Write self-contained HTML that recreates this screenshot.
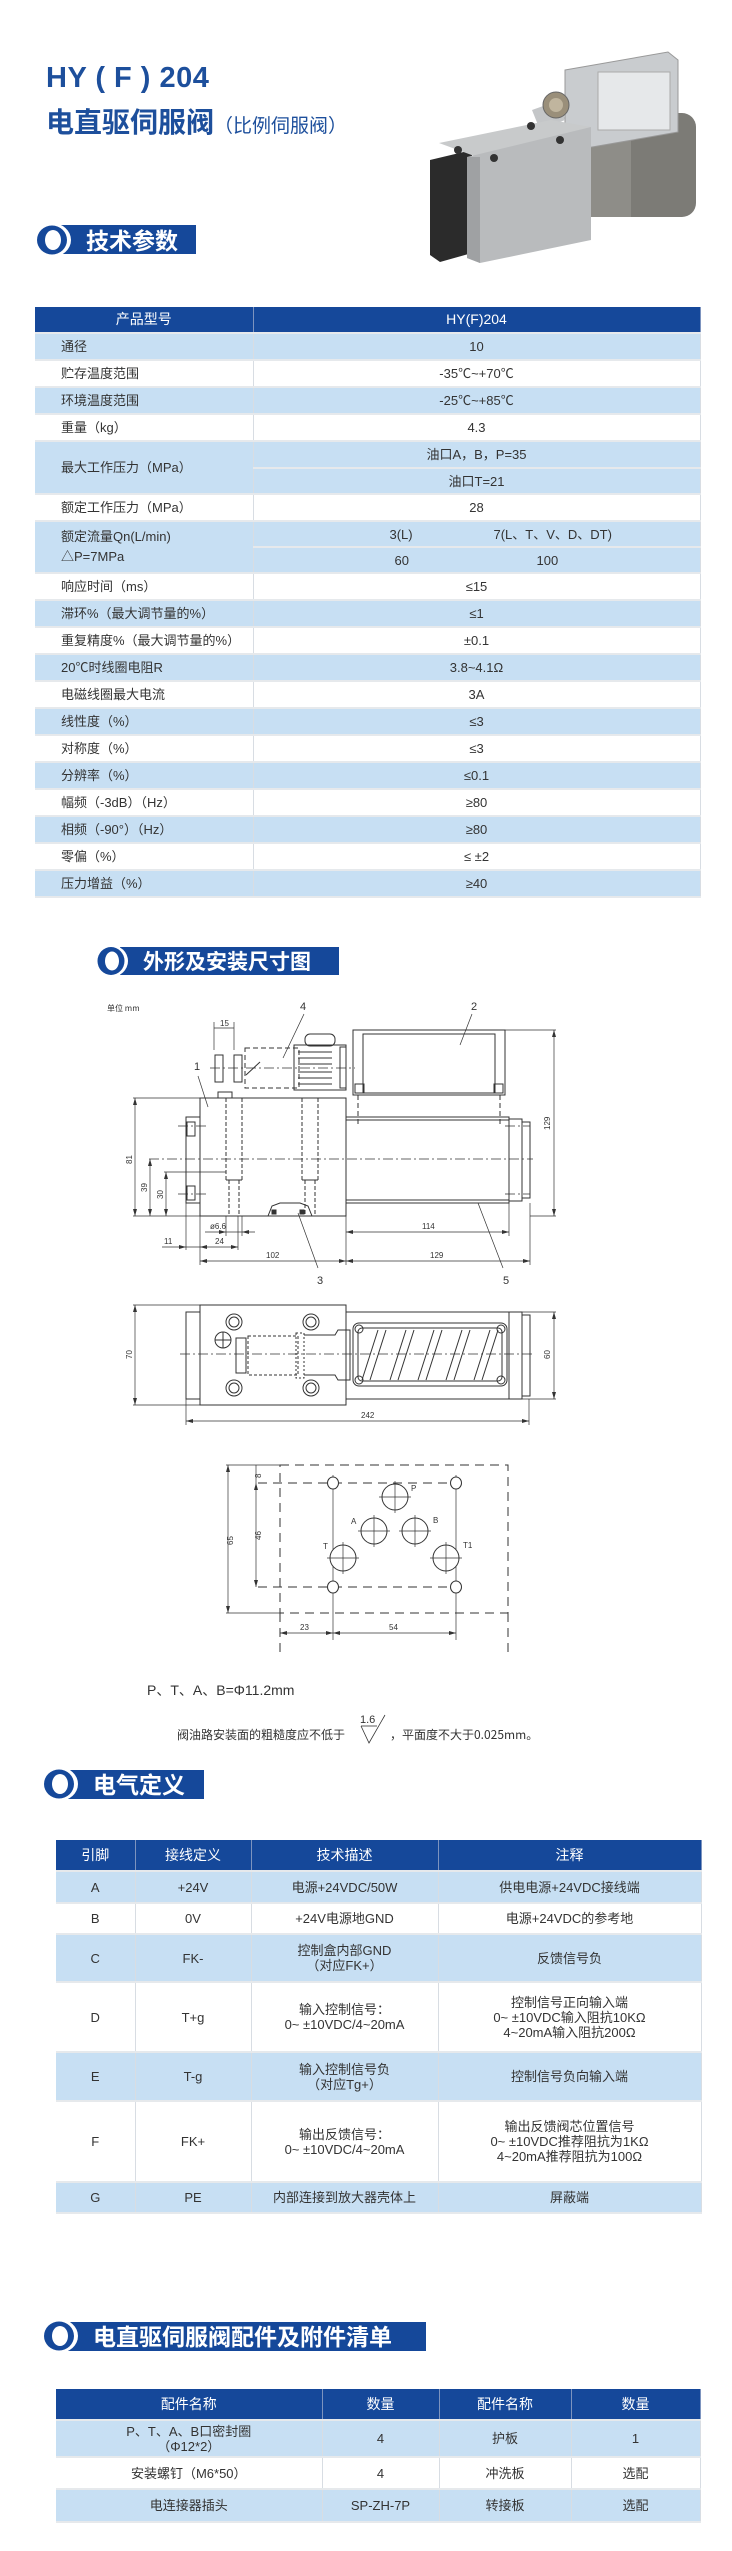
<!DOCTYPE html>
<html><head><meta charset="utf-8">
<style>
*{margin:0;padding:0;box-sizing:border-box}
body{width:732px;height:2551px;background:#fff;position:relative;overflow:hidden;font-family:"Liberation Sans","Noto Sans CJK SC",sans-serif;color:#333}
.abs{position:absolute}
table{border-collapse:collapse;table-layout:fixed;position:absolute;font-size:13px}
td,th{text-align:center;vertical-align:middle;border-right:1px solid #d8dde3;border-bottom:2px solid #e6e9ec;padding:0;line-height:15px}
th{background:#15489a;color:#fff;font-weight:normal;font-size:14px;border-right:1px solid #7d94bf}
tr.b td{background:#c7dff3}
tr.w td{background:#fff}
td.l{text-align:left;padding-left:26px}
</style></head><body>

<div class="abs" style="left:46px;top:62px;font-size:29px;font-weight:bold;color:#1d4f9c;letter-spacing:0.5px">HY ( F ) 204</div>
<div class="abs" style="left:46px;top:101px;font-size:28px;font-weight:bold;color:#1d4f9c;font-family:'Noto Sans CJK SC',sans-serif">电直驱伺服阀<span style="font-size:19px;font-weight:normal">（比例伺服阀）</span></div>

<svg class="abs" style="left:0;top:0" width="732" height="2551" xmlns="http://www.w3.org/2000/svg">
<!-- valve photo -->
<g>
<rect x="591" y="113" width="105" height="104" rx="14" fill="#7c7b76"/>
<rect x="591" y="113" width="40" height="104" fill="#8e8d88"/>
<polygon points="565,70 668,52 678,60 678,132 575,150 565,140" fill="#c9cccf" stroke="#999" stroke-width="1"/>
<rect x="598" y="72" width="72" height="58" fill="#e6e8ea" stroke="#aaa"/>
<polygon points="532,110 560,100 565,120 540,130" fill="#c4c6c8"/>
<circle cx="556" cy="105" r="13" fill="#9a8f7a" stroke="#666"/>
<circle cx="556" cy="105" r="7" fill="#c0b59e"/>
<polygon points="430,160 472,150 472,253 440,262 430,255" fill="#2b2b2b"/>
<polygon points="439,143 551,120 591,127 477,157" fill="#c8cacb"/>
<polygon points="467,157 591,127 591,240 480,263 467,258" fill="#b9bbbd"/>
<polygon points="467,157 480,157 480,263 467,258" fill="#9fa1a3"/>
<circle cx="458" cy="150" r="4" fill="#333"/><circle cx="531" cy="126" r="4" fill="#333"/>
<circle cx="494" cy="158" r="4" fill="#333"/><circle cx="560" cy="140" r="4" fill="#333"/>
</g>

<!-- section headers -->
<g font-family="Noto Sans CJK SC,sans-serif" font-weight="bold" fill="#fff">
<rect x="60" y="225" width="136" height="29" fill="#15489a"/>
<ellipse cx="52" cy="240" rx="19" ry="17" fill="#fff"/><ellipse cx="52" cy="240" rx="15" ry="14.5" fill="#15489a"/><ellipse cx="53" cy="240" rx="8" ry="10" fill="#fff"/>
<text x="86" y="249" font-size="23">技术参数</text>

<rect x="120" y="947" width="219" height="28" fill="#15489a"/>
<ellipse cx="111" cy="961" rx="17" ry="16" fill="#fff"/><ellipse cx="111" cy="961" rx="13.5" ry="14" fill="#15489a"/><ellipse cx="112" cy="961" rx="7" ry="9.5" fill="#fff"/>
<text x="143" y="969" font-size="21">外形及安装尺寸图</text>

<rect x="68" y="1770" width="136" height="29" fill="#15489a"/>
<ellipse cx="59" cy="1784" rx="19" ry="17" fill="#fff"/><ellipse cx="59" cy="1784" rx="15" ry="14.5" fill="#15489a"/><ellipse cx="60" cy="1784" rx="8" ry="10" fill="#fff"/>
<text x="93" y="1793" font-size="23">电气定义</text>

<rect x="68" y="2322" width="358" height="29" fill="#15489a"/>
<ellipse cx="59" cy="2336" rx="19" ry="17" fill="#fff"/><ellipse cx="59" cy="2336" rx="15" ry="14.5" fill="#15489a"/><ellipse cx="60" cy="2336" rx="8" ry="10" fill="#fff"/>
<text x="93" y="2345" font-size="23">电直驱伺服阀配件及附件清单</text>
</g>

<!-- side view -->
<g stroke="#333" stroke-width="1" fill="none" font-family="Liberation Sans,sans-serif">
<text x="107" y="1011" font-size="8" fill="#333" stroke="none" font-family="Noto Sans CJK SC,sans-serif">单位 mm</text>
<rect x="200" y="1098" width="146" height="118"/>
<rect x="186" y="1117" width="14" height="86"/>
<rect x="187" y="1122" width="8" height="14"/><rect x="187" y="1186" width="8" height="14"/>
<rect x="218" y="1092" width="14" height="6"/>
<g stroke-dasharray="4,2"><line x1="226" y1="1098" x2="226" y2="1180"/><line x1="242" y1="1098" x2="242" y2="1180"/><line x1="302" y1="1098" x2="302" y2="1180"/><line x1="318" y1="1098" x2="318" y2="1180"/>
<line x1="229" y1="1180" x2="229" y2="1216"/><line x1="239" y1="1180" x2="239" y2="1216"/><line x1="305" y1="1180" x2="305" y2="1216"/><line x1="315" y1="1180" x2="315" y2="1216"/></g>
<line x1="226" y1="1180" x2="242" y2="1180"/><line x1="302" y1="1180" x2="318" y2="1180"/>
<rect x="346" y="1117" width="163" height="86"/>
<rect x="346" y="1117" width="163" height="3"/><rect x="346" y="1200" width="163" height="3"/>
<rect x="509" y="1119" width="13" height="82"/><rect x="522" y="1122" width="8" height="76"/>
<rect x="353" y="1030" width="152" height="65"/><rect x="363" y="1034" width="132" height="59"/>
<rect x="355" y="1084" width="9" height="9"/><rect x="494" y="1084" width="9" height="9"/>
<g stroke-dasharray="5,3"><line x1="358" y1="1095" x2="358" y2="1125"/><line x1="500" y1="1095" x2="500" y2="1125"/>
<rect x="245" y="1048" width="54" height="40"/></g>
<rect x="305" y="1034" width="30" height="12" rx="5"/>
<rect x="294" y="1045" width="52" height="45"/><rect x="340" y="1047" width="6" height="41"/>
<g><line x1="298" y1="1052" x2="332" y2="1052"/><line x1="298" y1="1058" x2="332" y2="1058"/><line x1="298" y1="1064" x2="332" y2="1064"/><line x1="298" y1="1072" x2="332" y2="1072"/><line x1="298" y1="1078" x2="332" y2="1078"/><line x1="298" y1="1084" x2="332" y2="1084"/></g>
<rect x="215" y="1055" width="8" height="27"/><rect x="234" y="1055" width="8" height="27"/>
<line x1="246" y1="1075" x2="260" y2="1062"/>
<path d="M268 1216 L272 1206 L280 1203 L300 1203 L308 1206 L312 1216" />
<rect x="272" y="1210" width="4" height="4" fill="#333"/><rect x="300" y="1210" width="4" height="4" fill="#333"/>
<g stroke-dasharray="10,3,2,3" stroke-width="0.8"><line x1="149" y1="1159" x2="533" y2="1159"/><line x1="210" y1="1068" x2="355" y2="1068"/><line x1="178" y1="1126" x2="208" y2="1126"/><line x1="178" y1="1194" x2="208" y2="1194"/><line x1="505" y1="1126" x2="530" y2="1126"/><line x1="505" y1="1194" x2="530" y2="1194"/></g>
<!-- dims -->
<g stroke-width="0.7">
<line x1="505" y1="1030" x2="556" y2="1030"/><line x1="530" y1="1216" x2="556" y2="1216"/><line x1="554" y1="1030" x2="554" y2="1216"/>
<line x1="133" y1="1098" x2="200" y2="1098"/><line x1="133" y1="1216" x2="200" y2="1216"/><line x1="135" y1="1098" x2="135" y2="1216"/>
<line x1="150" y1="1159" x2="150" y2="1216"/><line x1="164" y1="1172" x2="226" y2="1172"/><line x1="166" y1="1172" x2="166" y2="1216"/>
<line x1="186" y1="1203" x2="186" y2="1250"/><line x1="200" y1="1216" x2="200" y2="1265"/><line x1="238" y1="1216" x2="238" y2="1250"/><line x1="346" y1="1216" x2="346" y2="1265"/><line x1="509" y1="1203" x2="509" y2="1236"/><line x1="530" y1="1203" x2="530" y2="1265"/>
<line x1="226" y1="1216" x2="226" y2="1236"/><line x1="242" y1="1216" x2="242" y2="1236"/>
<line x1="205" y1="1232" x2="255" y2="1232"/>
<line x1="162" y1="1247" x2="238" y2="1247"/>
<line x1="200" y1="1261" x2="530" y2="1261"/><line x1="346" y1="1232" x2="509" y2="1232"/>
<line x1="214" y1="1022" x2="214" y2="1050"/><line x1="234" y1="1022" x2="234" y2="1050"/><line x1="214" y1="1028" x2="234" y2="1028"/>
<line x1="198" y1="1076" x2="208" y2="1107"/><line x1="304" y1="1014" x2="283" y2="1058"/><line x1="472" y1="1014" x2="460" y2="1045"/><line x1="318" y1="1268" x2="298" y2="1213"/><line x1="503" y1="1268" x2="478" y2="1203"/>
</g>
<g fill="#333" stroke="none">
<polygon points="554,1030 552,1037 556,1037"/><polygon points="554,1216 552,1209 556,1209"/>
<polygon points="135,1098 133,1105 137,1105"/><polygon points="135,1216 133,1209 137,1209"/>
<polygon points="150,1159 148,1166 152,1166"/><polygon points="150,1216 148,1209 152,1209"/>
<polygon points="166,1172 164,1179 168,1179"/><polygon points="166,1216 164,1209 168,1209"/>
<polygon points="200,1261 207,1259 207,1263"/><polygon points="346,1261 339,1259 339,1263"/><polygon points="346,1261 353,1259 353,1263"/><polygon points="530,1261 523,1259 523,1263"/>
<polygon points="346,1232 353,1230 353,1234"/><polygon points="509,1232 502,1230 502,1234"/>
<polygon points="186,1247 179,1245 179,1249"/><polygon points="200,1247 207,1245 207,1249"/><polygon points="238,1247 231,1245 231,1249"/>
<polygon points="226,1232 219,1230 219,1234"/><polygon points="242,1232 249,1230 249,1234"/>
</g>
<g fill="#333" stroke="none" font-size="8">
<text x="220" y="1026">15</text>
<text x="194" y="1070" font-size="11">1</text><text x="300" y="1010" font-size="11">4</text><text x="471" y="1010" font-size="11">2</text><text x="317" y="1284" font-size="11">3</text><text x="503" y="1284" font-size="11">5</text>
<text x="210" y="1229">ø6.6</text><text x="164" y="1244">11</text><text x="215" y="1244">24</text>
<text x="266" y="1258">102</text><text x="430" y="1258">129</text><text x="422" y="1229">114</text>
<text transform="translate(550,1130) rotate(-90)">129</text>
<text transform="translate(132,1164) rotate(-90)">81</text>
<text transform="translate(147,1192) rotate(-90)">39</text>
<text transform="translate(163,1199) rotate(-90)">30</text>
</g>

<!-- top view -->
<rect x="200" y="1305" width="146" height="100"/>
<rect x="186" y="1312" width="14" height="87"/>
<rect x="346" y="1312" width="163" height="87"/>
<rect x="509" y="1312" width="13" height="87"/><rect x="522" y="1315" width="8" height="81"/>
<rect x="353" y="1323" width="154" height="63" rx="6"/><rect x="358" y="1328" width="144" height="53" rx="4"/>
<g><line x1="362" y1="1380" x2="378" y2="1330"/><line x1="370" y1="1380" x2="386" y2="1330"/>
<line x1="390" y1="1380" x2="406" y2="1330"/><line x1="398" y1="1380" x2="414" y2="1330"/>
<line x1="418" y1="1380" x2="434" y2="1330"/><line x1="426" y1="1380" x2="442" y2="1330"/>
<line x1="446" y1="1380" x2="462" y2="1330"/><line x1="454" y1="1380" x2="470" y2="1330"/>
<line x1="474" y1="1380" x2="490" y2="1330"/><line x1="482" y1="1380" x2="498" y2="1330"/></g>
<circle cx="359" cy="1329" r="4"/><circle cx="501" cy="1329" r="4"/><circle cx="359" cy="1380" r="4"/><circle cx="501" cy="1380" r="4"/>
<circle cx="234" cy="1322" r="8"/><circle cx="234" cy="1322" r="5"/><circle cx="311" cy="1322" r="8"/><circle cx="311" cy="1322" r="5"/>
<circle cx="234" cy="1388" r="8"/><circle cx="234" cy="1388" r="5"/><circle cx="311" cy="1388" r="8"/><circle cx="311" cy="1388" r="5"/>
<circle cx="223" cy="1340" r="8"/><line x1="215" y1="1340" x2="231" y2="1340"/><line x1="223" y1="1332" x2="223" y2="1348"/>
<rect x="248" y="1336" width="50" height="39" stroke-dasharray="3,2"/>
<rect x="296" y="1333" width="8" height="45" stroke-dasharray="2,2"/>
<path d="M304 1335 L335 1335 L338 1330 L350 1330 L350 1380 L338 1380 L335 1375 L304 1375"/>
<rect x="236" y="1338" width="10" height="35"/>
<g stroke-dasharray="10,3,2,3" stroke-width="0.8"><line x1="180" y1="1354" x2="535" y2="1354"/></g>
<g stroke-width="0.7">
<line x1="133" y1="1305" x2="200" y2="1305"/><line x1="133" y1="1405" x2="200" y2="1405"/><line x1="135" y1="1305" x2="135" y2="1405"/>
<line x1="509" y1="1312" x2="556" y2="1312"/><line x1="509" y1="1399" x2="556" y2="1399"/><line x1="554" y1="1312" x2="554" y2="1399"/>
<line x1="186" y1="1399" x2="186" y2="1425"/><line x1="529" y1="1399" x2="529" y2="1425"/><line x1="186" y1="1421" x2="529" y2="1421"/>
</g>
<g fill="#333" stroke="none">
<polygon points="135,1305 133,1312 137,1312"/><polygon points="135,1405 133,1398 137,1398"/>
<polygon points="554,1312 552,1319 556,1319"/><polygon points="554,1399 552,1392 556,1392"/>
<polygon points="186,1421 193,1419 193,1423"/><polygon points="529,1421 522,1419 522,1423"/>
<text font-size="8" transform="translate(132,1359) rotate(-90)">70</text>
<text font-size="8" transform="translate(550,1359) rotate(-90)">60</text>
<text font-size="8" x="361" y="1418">242</text>
</g>

<!-- mounting surface -->
<g stroke-dasharray="9,6"><rect x="280" y="1465" width="228" height="148"/><line x1="280" y1="1613" x2="280" y2="1657"/><line x1="508" y1="1613" x2="508" y2="1657"/>
<line x1="258" y1="1483" x2="460" y2="1483"/><line x1="258" y1="1587" x2="460" y2="1587"/></g>
<g stroke-width="0.7">
<line x1="226" y1="1465" x2="280" y2="1465"/><line x1="228" y1="1465" x2="228" y2="1613"/><line x1="226" y1="1613" x2="280" y2="1613"/>
<line x1="256" y1="1483" x2="256" y2="1587"/><line x1="256" y1="1465" x2="256" y2="1483"/>
<line x1="333" y1="1475" x2="333" y2="1640"/><line x1="456" y1="1475" x2="456" y2="1640"/>
<line x1="280" y1="1633" x2="456" y2="1633"/>
</g>
<g fill="#333" stroke="none">
<polygon points="228,1465 226,1472 230,1472"/><polygon points="228,1613 226,1606 230,1606"/>
<polygon points="256,1483 254,1490 258,1490"/><polygon points="256,1587 254,1580 258,1580"/>
<polygon points="280,1633 287,1631 287,1635"/><polygon points="333,1633 326,1631 326,1635"/><polygon points="333,1633 340,1631 340,1635"/><polygon points="456,1633 449,1631 449,1635"/>
</g>
<g fill="#fff">
<ellipse cx="333" cy="1483" rx="5.5" ry="6"/><ellipse cx="456" cy="1483" rx="5.5" ry="6"/><ellipse cx="333" cy="1587" rx="5.5" ry="6"/><ellipse cx="456" cy="1587" rx="5.5" ry="6"/>
<ellipse cx="395" cy="1497" rx="13" ry="13"/><ellipse cx="374" cy="1531" rx="13" ry="13"/><ellipse cx="415" cy="1531" rx="13" ry="13"/><ellipse cx="343" cy="1558" rx="13" ry="13"/><ellipse cx="446" cy="1558" rx="13" ry="13"/>
</g>
<g stroke-width="0.7">
<line x1="379" y1="1497" x2="411" y2="1497"/><line x1="395" y1="1481" x2="395" y2="1513"/>
<line x1="358" y1="1531" x2="390" y2="1531"/><line x1="374" y1="1515" x2="374" y2="1547"/>
<line x1="399" y1="1531" x2="431" y2="1531"/><line x1="415" y1="1515" x2="415" y2="1547"/>
<line x1="327" y1="1558" x2="359" y2="1558"/><line x1="343" y1="1542" x2="343" y2="1574"/>
<line x1="430" y1="1558" x2="462" y2="1558"/><line x1="446" y1="1542" x2="446" y2="1574"/>
</g>
<g fill="#333" stroke="none" font-size="8">
<text x="411" y="1491">P</text><text x="351" y="1524">A</text><text x="433" y="1523">B</text><text x="323" y="1549">T</text><text x="463" y="1548">T1</text>
<text x="300" y="1630">23</text><text x="389" y="1630">54</text>
<text transform="translate(233,1545) rotate(-90)">65</text>
<text transform="translate(261,1540) rotate(-90)">46</text>
<text transform="translate(261,1478) rotate(-90)">8</text>
</g>
<!-- roughness symbol -->
<polyline points="361,1726 369,1743 385,1715" stroke-width="0.8"/><line x1="361" y1="1726" x2="377" y2="1726" stroke-width="0.8"/>
<text x="360" y="1723" font-size="11" fill="#333" stroke="none">1.6</text>
</g>
</svg>

<div class="abs" style="left:147px;top:1680px;font-size:14px;color:#333">P、T、A、B=Φ11.2mm</div>
<div class="abs" style="left:177px;top:1726px;font-size:12px;color:#333;font-family:'Noto Sans CJK SC',sans-serif">阀油路安装面的粗糙度应不低于</div>
<div class="abs" style="left:390px;top:1726px;font-size:12px;color:#333;font-family:'Noto Sans CJK SC',sans-serif">，平面度不大于0.025mm。</div>

<!-- tech params table -->
<table style="left:35px;top:307px;width:665px">
<colgroup><col style="width:218px"><col style="width:447px"></colgroup>
<tr style="height:26px"><th>产品型号</th><th>HY(F)204</th></tr>
<tr class="b" style="height:27px"><td class="l">通径</td><td>10</td></tr>
<tr class="w" style="height:27px"><td class="l">贮存温度范围</td><td>-35℃~+70℃</td></tr>
<tr class="b" style="height:27px"><td class="l">环境温度范围</td><td>-25℃~+85℃</td></tr>
<tr class="w" style="height:27px"><td class="l">重量（kg）</td><td>4.3</td></tr>
<tr class="b" style="height:27px"><td class="l" rowspan="2">最大工作压力（MPa）</td><td>油口A，B，P=35</td></tr>
<tr class="b" style="height:26px"><td>油口T=21</td></tr>
<tr class="w" style="height:27px"><td class="l">额定工作压力（MPa）</td><td>28</td></tr>
<tr class="b" style="height:26px"><td class="l" rowspan="2" style="line-height:20px">额定流量Qn(L/min)<br>△P=7MPa</td><td><div style="position:relative;height:15px"><span style="position:absolute;left:136px">3(L)</span><span style="position:absolute;left:240px">7(L、T、V、D、DT)</span></div></td></tr>
<tr class="b" style="height:26px"><td><div style="position:relative;height:15px"><span style="position:absolute;left:141px">60</span><span style="position:absolute;left:283px">100</span></div></td></tr>
<tr class="w" style="height:27px"><td class="l">响应时间（ms）</td><td>≤15</td></tr>
<tr class="b" style="height:27px"><td class="l">滞环%（最大调节量的%）</td><td>≤1</td></tr>
<tr class="w" style="height:27px"><td class="l">重复精度%（最大调节量的%）</td><td>±0.1</td></tr>
<tr class="b" style="height:27px"><td class="l">20℃时线圈电阻R</td><td>3.8~4.1Ω</td></tr>
<tr class="w" style="height:27px"><td class="l">电磁线圈最大电流</td><td>3A</td></tr>
<tr class="b" style="height:27px"><td class="l">线性度（%）</td><td>≤3</td></tr>
<tr class="w" style="height:27px"><td class="l">对称度（%）</td><td>≤3</td></tr>
<tr class="b" style="height:27px"><td class="l">分辨率（%）</td><td>≤0.1</td></tr>
<tr class="w" style="height:27px"><td class="l">幅频（-3dB）（Hz）</td><td>≥80</td></tr>
<tr class="b" style="height:27px"><td class="l">相频（-90°）（Hz）</td><td>≥80</td></tr>
<tr class="w" style="height:27px"><td class="l">零偏（%）</td><td>≤ ±2</td></tr>
<tr class="b" style="height:27px"><td class="l">压力增益（%）</td><td>≥40</td></tr>
</table>

<!-- electrical table -->
<table style="left:56px;top:1840px;width:645px">
<colgroup><col style="width:79px"><col style="width:116px"><col style="width:187px"><col style="width:263px"></colgroup>
<tr style="height:31px"><th>引脚</th><th>接线定义</th><th>技术描述</th><th>注释</th></tr>
<tr class="b" style="height:32px"><td>A</td><td>+24V</td><td>电源+24VDC/50W</td><td>供电电源+24VDC接线端</td></tr>
<tr class="w" style="height:31px"><td>B</td><td>0V</td><td>+24V电源地GND</td><td>电源+24VDC的参考地</td></tr>
<tr class="b" style="height:48px"><td>C</td><td>FK-</td><td>控制盒内部GND<br>（对应FK+）</td><td>反馈信号负</td></tr>
<tr class="w" style="height:70px"><td>D</td><td>T+g</td><td>输入控制信号：<br>0~ ±10VDC/4~20mA</td><td>控制信号正向输入端<br>0~ ±10VDC输入阻抗10KΩ<br>4~20mA输入阻抗200Ω</td></tr>
<tr class="b" style="height:49px"><td>E</td><td>T-g</td><td>输入控制信号负<br>（对应Tg+）</td><td>控制信号负向输入端</td></tr>
<tr class="w" style="height:81px"><td>F</td><td>FK+</td><td>输出反馈信号：<br>0~ ±10VDC/4~20mA</td><td>输出反馈阀芯位置信号<br>0~ ±10VDC推荐阻抗为1KΩ<br>4~20mA推荐阻抗为100Ω</td></tr>
<tr class="b" style="height:31px"><td>G</td><td>PE</td><td>内部连接到放大器壳体上</td><td>屏蔽端</td></tr>
</table>

<!-- accessories table -->
<table style="left:56px;top:2389px;width:644px">
<colgroup><col style="width:266px"><col style="width:117px"><col style="width:132px"><col style="width:129px"></colgroup>
<tr style="height:31px"><th>配件名称</th><th>数量</th><th>配件名称</th><th>数量</th></tr>
<tr class="b" style="height:37px"><td>P、T、A、B口密封圈<br>（Φ12*2）</td><td>4</td><td>护板</td><td>1</td></tr>
<tr class="w" style="height:32px"><td>安装螺钉（M6*50）</td><td>4</td><td>冲洗板</td><td>选配</td></tr>
<tr class="b" style="height:33px"><td>电连接器插头</td><td>SP-ZH-7P</td><td>转接板</td><td>选配</td></tr>
</table>

</body></html>
